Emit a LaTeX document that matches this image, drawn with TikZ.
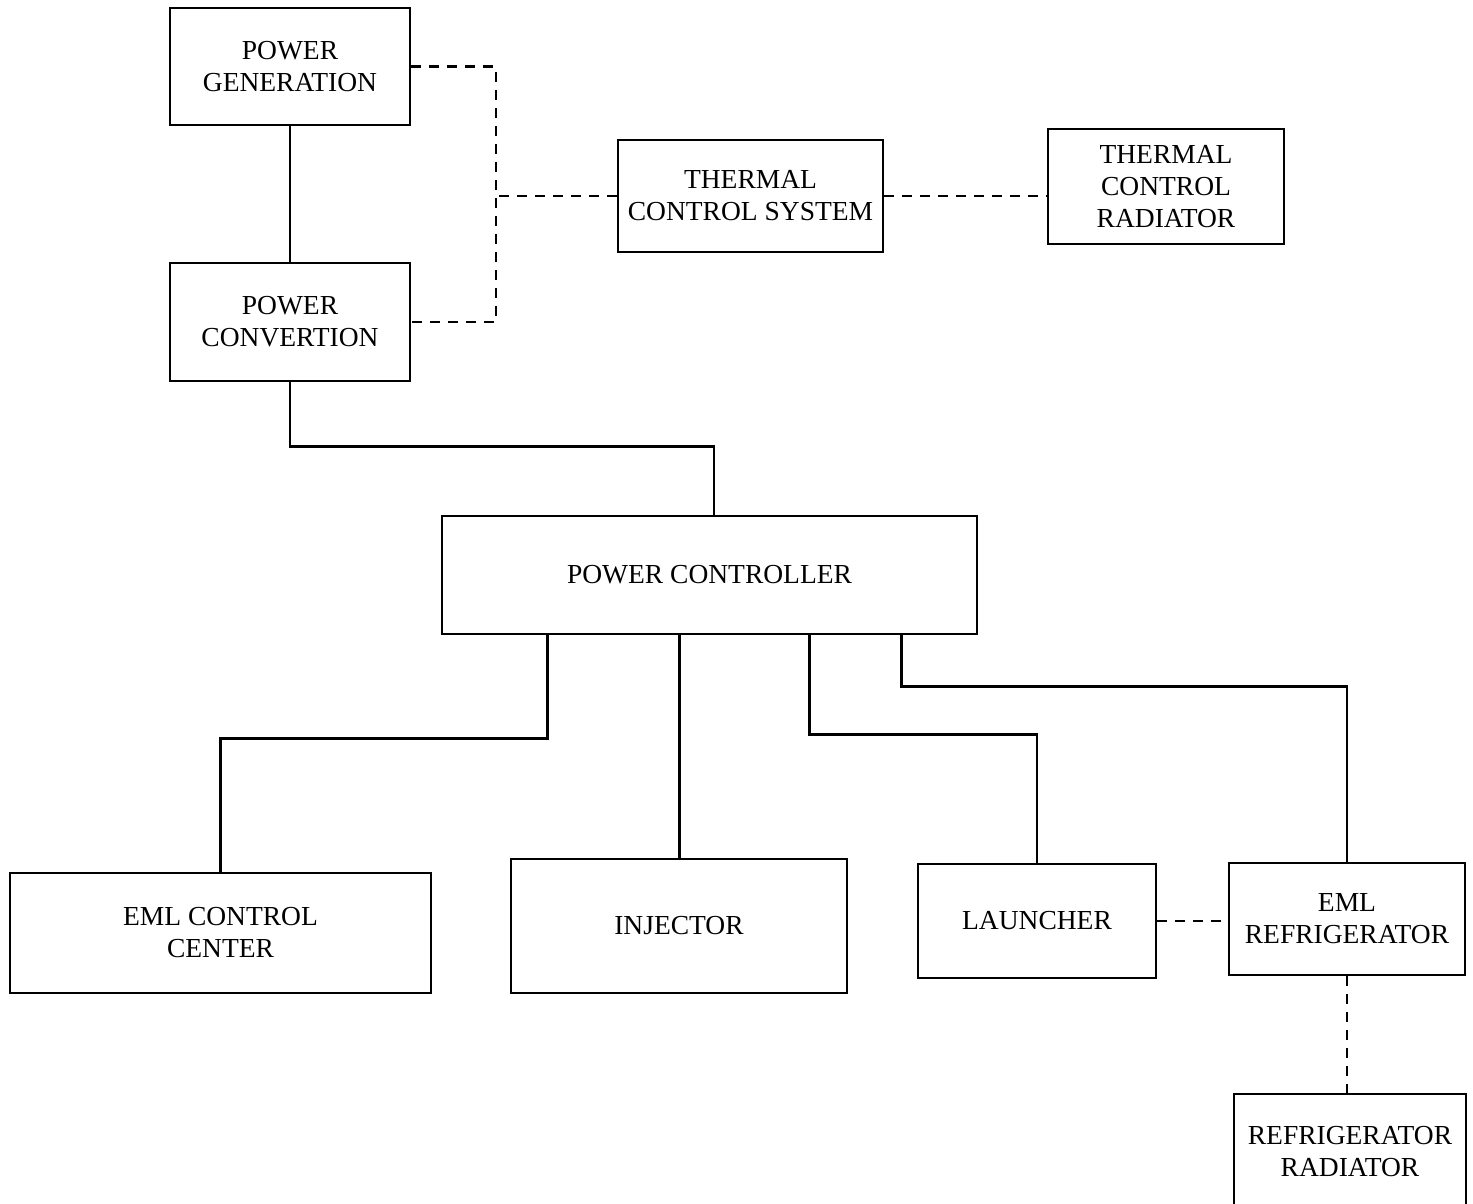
\documentclass[tikz,border=0pt]{standalone}
\usepackage{fontspec}
\setmainfont{Liberation Serif}
\usetikzlibrary{calc}
\begin{document}
\begin{tikzpicture}[x=1pt,y=-1pt,
  box/.style={draw,line width=2.8pt,inner sep=0pt,align=center,
    font=\fontsize{27.5}{32}\selectfont},
  conn/.style={line width=2.8pt},
  dconn/.style={line width=2.8pt,dash pattern=on 10pt off 8pt}]
\useasboundingbox (0,0) rectangle (1473,1204);
\clip (0,0) rectangle (1473,1204);
\node[box,minimum width=240pt,minimum height=117pt] (pg) at (290,66.5) {POWER\\GENERATION};
\node[box,minimum width=240pt,minimum height=118pt] (pc) at (290,322) {POWER\\CONVERTION};
\node[box,minimum width=265pt,minimum height=112pt] (tcs) at (750.5,196) {THERMAL\\CONTROL SYSTEM};
\node[box,minimum width=236pt,minimum height=115pt] (tcr) at (1166,186.5) {THERMAL\\CONTROL\\RADIATOR};
\node[box,minimum width=535pt,minimum height=118pt] (pctl) at (709.5,575) {POWER CONTROLLER};
\node[box,minimum width=421pt,minimum height=120pt] (ecc) at (220.5,933) {EML CONTROL\\CENTER};
\node[box,minimum width=336pt,minimum height=134pt] (inj) at (679,926) {INJECTOR};
\node[box,minimum width=238pt,minimum height=114pt] (lau) at (1037,921) {LAUNCHER};
\node[box,minimum width=236pt,minimum height=112pt] (ref) at (1347,919) {EML\\REFRIGERATOR};
\node[box,minimum width=232pt,minimum height=116pt] (rad) at (1350,1152) {REFRIGERATOR\\RADIATOR};
\coordinate (jx) at (496,0);
\coordinate (p1) at ($(pctl.south west)+(107,0)$);
\coordinate (p2) at ($(pctl.south west)+(239,0)$);
\coordinate (p3) at ($(pctl.south west)+(369,0)$);
\coordinate (p4) at ($(pctl.south west)+(461,0)$);
\coordinate (pt) at ($(pctl.north)+(4.5,0)$);
% solid connectors
\draw[conn] (pg.south) -- (pc.north);
\draw[conn] (pc.south) -- ++(0,64) -| (pt);
\draw[conn] (p1) -- ++(0,103) -| (ecc.north);
\draw[conn] (p2) -- (p2 |- inj.north);
\draw[conn] (p3) -- ++(0,99) -| (lau.north);
\draw[conn] (p4) -- ++(0,51) -| (ref.north);
% dashed connectors
\draw[dconn] (pg.east) -| (jx |- pc.east) -- (pc.east);
\draw[dconn] (tcs.west) -- (tcs.west -| jx);
\draw[dconn] (tcs.east) -- (tcs.east -| tcr.west);
\draw[dconn] (lau.east) -- (lau.east -| ref.west);
\draw[dconn] (ref.south) -- (ref.south |- rad.north);
\end{tikzpicture}
\end{document}
